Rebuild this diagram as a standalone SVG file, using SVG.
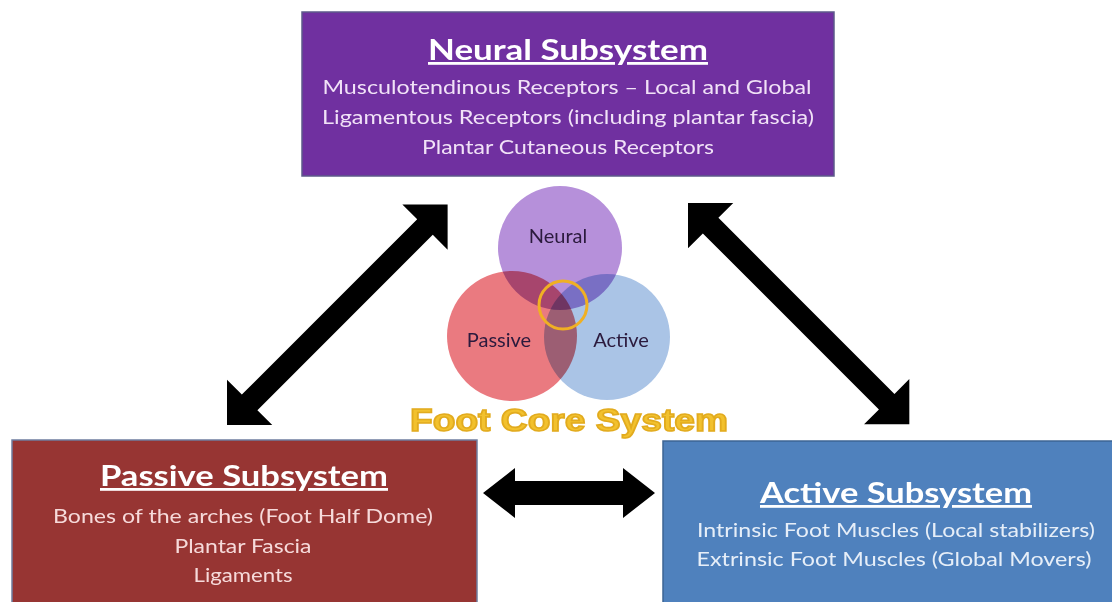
<svg xmlns="http://www.w3.org/2000/svg" width="1112" height="602" viewBox="0 0 1112 602">
<style>
.title{font-family:Lato,"Liberation Sans",sans-serif;font-weight:700;font-size:28px;text-anchor:middle;text-decoration:underline;}
.body{font-family:Lato,"Liberation Sans",sans-serif;font-size:19.5px;text-anchor:middle;}
.venn{font-family:Lato,"Liberation Sans",sans-serif;font-size:20px;text-anchor:middle;fill:#2b1a3d;}
.arrow{fill:#000;}
.circ{mix-blend-mode:multiply;}
</style>
<rect width="1112" height="602" fill="#ffffff"/>
<g id="neural">
<rect x="302" y="12" width="532" height="164" fill="#7030a0" stroke="#5d5a8a" stroke-width="1.5"/>
<text class="title" x="568" y="60" fill="#ffffff" textLength="280" lengthAdjust="spacingAndGlyphs">Neural Subsystem</text>
<text class="body" x="567" y="94" fill="#f1e2f7" textLength="489" lengthAdjust="spacingAndGlyphs">Musculotendinous Receptors – Local and Global</text>
<text class="body" x="568" y="124" fill="#f1e2f7" textLength="492" lengthAdjust="spacingAndGlyphs">Ligamentous Receptors (including plantar fascia)</text>
<text class="body" x="568" y="154" fill="#f1e2f7" textLength="292" lengthAdjust="spacingAndGlyphs">Plantar Cutaneous Receptors</text>
</g>
<g id="passive">
<rect x="12" y="440" width="465" height="170" fill="#973533" stroke="#6f7ea0" stroke-width="1.5"/>
<text class="title" x="244" y="486" fill="#ffffff" textLength="288" lengthAdjust="spacingAndGlyphs">Passive Subsystem</text>
<text class="body" x="243" y="523" fill="#f6dada" textLength="380" lengthAdjust="spacingAndGlyphs">Bones of the arches (Foot Half Dome)</text>
<text class="body" x="243" y="553" fill="#f6dada" textLength="137" lengthAdjust="spacingAndGlyphs">Plantar Fascia</text>
<text class="body" x="243" y="582" fill="#f6dada" textLength="99" lengthAdjust="spacingAndGlyphs">Ligaments</text>
</g>
<g id="active">
<rect x="663" y="441" width="460" height="170" fill="#4f81bd" stroke="#3d6494" stroke-width="1.5"/>
<text class="title" x="896" y="503" fill="#ffffff" textLength="272" lengthAdjust="spacingAndGlyphs">Active Subsystem</text>
<text class="body" x="896" y="537" fill="#e6eef8" textLength="398" lengthAdjust="spacingAndGlyphs">Intrinsic Foot Muscles (Local stabilizers)</text>
<text class="body" x="894" y="566" fill="#e6eef8" textLength="395" lengthAdjust="spacingAndGlyphs">Extrinsic Foot Muscles (Global Movers)</text>
</g>
<g id="foot-core">
<g style="isolation:isolate">
<circle class="circ" cx="560" cy="248" r="62" fill="#b690da"/>
<circle class="circ" cx="512" cy="336" r="65" fill="#ea7a80"/>
<circle class="circ" cx="607" cy="337" r="63" fill="#aac4e6"/>
</g>
<circle cx="563" cy="305" r="24" fill="none" stroke="#f0b023" stroke-width="3"/>
<text class="venn" x="558" y="243">Neural</text>
<text class="venn" x="499" y="347">Passive</text>
<text class="venn" x="621" y="347">Active</text>
<text x="569" y="431" font-family="'Liberation Sans',Arial,sans-serif" font-weight="700" font-size="32" text-anchor="middle" fill="#f2c12e" stroke="#e2ab1e" stroke-width="1.6" textLength="318" lengthAdjust="spacingAndGlyphs">Foot Core System</text>
</g>
<g id="connectors">
<polygon class="arrow" transform="translate(227,425) rotate(-45)" points="0,0 32,-32 32,-11 280,-11 280,-32 312,0 280,32 280,11 32,11 32,32"/>
<polygon class="arrow" transform="translate(688,203) rotate(45)" points="0,0 32,-32 32,-11 281,-11 281,-32 313,0 281,32 281,11 32,11 32,32"/>
<polygon class="arrow" points="483,493 515,468 515,481 623,481 623,468 655,493 623,518 623,505 515,505 515,518"/>
</g>
</svg>
